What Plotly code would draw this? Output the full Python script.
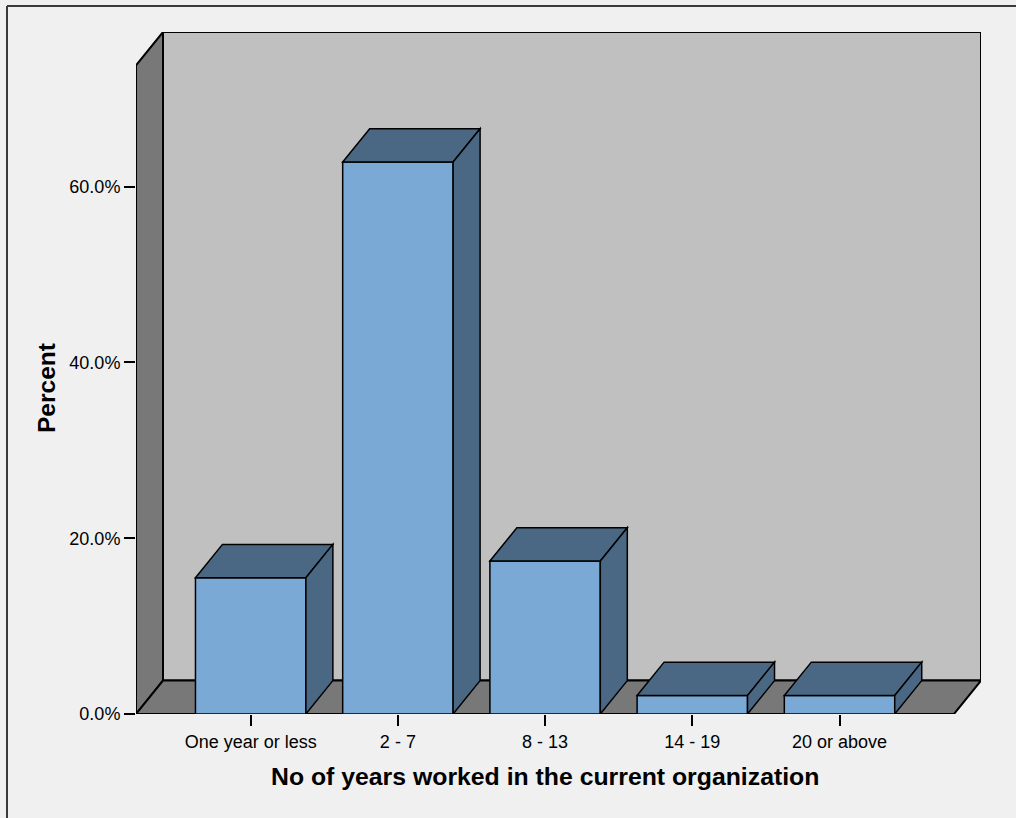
import plotly.graph_objects as go

# Share of respondents by tenure in the current organization
categories = ["One year or less", "2 - 7", "8 - 13", "14 - 19", "20 or above"]
percent = [15.5, 62.8, 17.4, 2.1, 2.1]
y_ticks = [0, 20, 40, 60]
y_tick_labels = ["0.0%", "20.0%", "40.0%", "60.0%"]

# Pseudo-3D geometry (in axis units)
X_MIN, X_MAX = -0.779, 4.961
Y_MAX = 77.6
DEPTH_X = 0.1834
DEPTH_Y = 3.8
HALF_W = 0.375

WALL = "#c0c0c0"
SIDE = "#787878"
FRONT = "#7ba9d6"
DARK = "#4a6884"
BG = "#f0f0f0"
FONT = "Arial, Liberation Sans, sans-serif"

W, H = 1016, 818
ML, MR, MT, MB = 136, 35, 32, 104


def path(points):
    return "M " + " L ".join(f"{x} {y}" for x, y in points) + " Z"


shapes = []


def poly(points, fill, width=2):
    shapes.append(dict(type="path", xref="x", yref="y", path=path(points),
                       fillcolor=fill, line=dict(color="black", width=width),
                       layer="below"))


front_left = X_MIN
back_left = X_MIN + DEPTH_X
front_right = X_MAX - DEPTH_X
wall_top_front = Y_MAX - DEPTH_Y

# back wall
poly([(back_left, DEPTH_Y), (back_left, Y_MAX), (X_MAX, Y_MAX), (X_MAX, DEPTH_Y)], WALL)
# left wall
poly([(front_left, 0), (front_left, wall_top_front), (back_left, Y_MAX), (back_left, DEPTH_Y)], SIDE)
# floor
poly([(front_left, 0), (back_left, DEPTH_Y), (X_MAX, DEPTH_Y), (front_right, 0)], SIDE)

# bars: front face, top and right side
for i, v in enumerate(percent):
    x0, x1 = i - HALF_W, i + HALF_W
    poly([(x0, 0), (x0, v), (x1, v), (x1, 0)], FRONT, 1.5)
    poly([(x0, v), (x0 + DEPTH_X, v + DEPTH_Y), (x1 + DEPTH_X, v + DEPTH_Y), (x1, v)], DARK, 1.5)
    poly([(x1, 0), (x1, v), (x1 + DEPTH_X, v + DEPTH_Y), (x1 + DEPTH_X, DEPTH_Y)], DARK, 1.5)

# outer frame lines (left and top edges)
pw = W - ML - MR
ph = H - MT - MB


def px_to_paper_x(px):
    return (px - ML) / pw


def px_to_paper_y(py):
    return (H - MB - py) / ph


shapes.append(dict(type="line", xref="paper", yref="paper",
                   x0=px_to_paper_x(7), x1=px_to_paper_x(7),
                   y0=px_to_paper_y(6), y1=px_to_paper_y(830),
                   line=dict(color="#3a3a3a", width=2)))
shapes.append(dict(type="line", xref="paper", yref="paper",
                   x0=px_to_paper_x(7), x1=px_to_paper_x(1030),
                   y0=px_to_paper_y(6), y1=px_to_paper_y(6),
                   line=dict(color="#3a3a3a", width=2)))

fig = go.Figure()
# invisible trace so the axes carry the data scale
fig.add_trace(go.Scatter(x=list(range(len(categories))), y=percent, mode="markers",
                         marker=dict(opacity=0), hoverinfo="skip", showlegend=False))

fig.update_layout(
    width=W, height=H,
    margin=dict(l=ML, r=MR, t=MT, b=MB, pad=0),
    paper_bgcolor=BG, plot_bgcolor="rgba(0,0,0,0)",
    shapes=shapes,
    showlegend=False,
    font=dict(family=FONT, color="black", size=18),
    xaxis=dict(range=[X_MIN, X_MAX], tickmode="array",
               tickvals=list(range(len(categories))), ticktext=categories,
               ticks="outside", ticklen=11, tickwidth=2, tickcolor="black",
               showgrid=False, zeroline=False, showline=False,
               tickfont=dict(size=18, family=FONT), fixedrange=True),
    yaxis=dict(range=[0, Y_MAX], tickmode="array", tickvals=y_ticks,
               ticktext=y_tick_labels, ticks="outside", ticklen=11, tickwidth=2,
               tickcolor="black", showgrid=False, zeroline=False, showline=False,
               tickfont=dict(size=18, family=FONT), fixedrange=True),
    annotations=[
        dict(text="<b>No of years worked in the current organization</b>",
             xref="paper", yref="paper",
             x=px_to_paper_x(545), y=px_to_paper_y(776),
             xanchor="center", yanchor="middle", showarrow=False,
             font=dict(size=24.8, family=FONT)),
        dict(text="<b>Percent</b>", textangle=-90,
             xref="paper", yref="paper",
             x=px_to_paper_x(46), y=px_to_paper_y(388),
             xanchor="center", yanchor="middle", showarrow=False,
             font=dict(size=24.5, family=FONT)),
    ],
)

fig.write_html("out.html", config={"displayModeBar": False})
